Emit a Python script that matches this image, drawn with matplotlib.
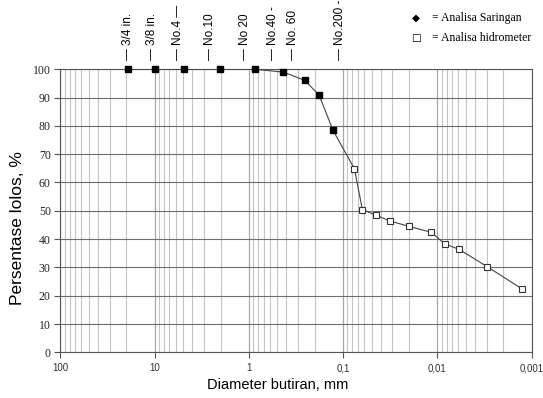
import numpy as np
import matplotlib
matplotlib.use('Agg')
import matplotlib.pyplot as plt
from matplotlib.ticker import FixedLocator, LogLocator, NullFormatter

# grain size data
saringan_d = [19.1, 9.9, 4.85, 2.05, 0.86, 0.43, 0.256, 0.18, 0.128]
saringan_p = [100, 100, 100, 100, 100, 99.0, 96.1, 90.9, 78.4]
hidro_d = [0.076, 0.0625, 0.0444, 0.0318, 0.0201, 0.0116, 0.00834, 0.00589, 0.00294, 0.00125]
hidro_p = [64.9, 50.4, 48.4, 46.4, 44.5, 42.4, 38.3, 36.4, 30.2, 22.3]

# sieve names at the top and where they stand
sieve_labels = ['\u2014 3/4 in.', '\u2014 3/8 in.', '\u2014 No.4 \u2014', '\u2014 No.10',
                '\u2014 No 20', '\u2014 No.40 -', '\u2014 No. 60', '\u2014 No.200 -']
sieve_pos = [19.1, 10.8, 5.6, 2.6, 1.1, 0.55, 0.34, 0.108]

xticks = [100, 10, 1, 0.1, 0.01, 0.001]
xticklabels = ['100', '10', '1', '0,1', '0,01', '0,001']
yticks = list(range(0, 101, 10))

fig = plt.figure(figsize=(5.43, 3.98), dpi=100)
ax = fig.add_axes([0.1114, 0.1148, 0.8676, 0.7111])

ax.set_xscale('log')
ax.set_xlim(100, 0.001)
ax.set_ylim(0, 100)

# grid
ax.xaxis.set_major_locator(FixedLocator(xticks))
ax.xaxis.set_minor_locator(LogLocator(base=10, subs=np.arange(2, 10)))
ax.xaxis.set_minor_formatter(NullFormatter())
ax.grid(True, which='major', axis='x', color='#a8a8a8', lw=0.9)
ax.grid(True, which='minor', axis='x', color='#c4c4c4', lw=0.8)
ax.grid(True, which='major', axis='y', color='#6e6e6e', lw=0.8)
ax.set_axisbelow(True)

all_d = saringan_d + hidro_d
all_p = saringan_p + hidro_p
ax.plot(all_d, all_p, '-', color='#444444', lw=0.8, zorder=3)
ax.plot(saringan_d, saringan_p, 's', ms=5, mfc='black', mec='black', zorder=4, clip_on=False)
ax.plot(hidro_d, hidro_p, 's', ms=5, mfc='white', mec='#333333', mew=0.8, zorder=4)

ax.set_xticks(xticks)
ax.set_xticklabels(xticklabels, fontsize=7, family='Liberation Sans', color='#333333')
ax.set_yticks(yticks)
ax.set_yticklabels([str(v) for v in yticks], fontsize=8.5, family='Liberation Serif', color='#222222')
ax.tick_params(axis='both', which='major', direction='out', length=4, width=0.8, color='#555555')
ax.tick_params(axis='x', which='minor', length=0)
ax.tick_params(axis='y', pad=3)
ax.tick_params(axis='x', pad=4)

for s in ax.spines.values():
    s.set_color('#555555')
    s.set_linewidth(0.8)

ax.set_xlabel('Diameter butiran, mm', fontsize=10.5, family='Liberation Sans')
ax.xaxis.set_label_coords(0.462, -0.09)
ax.set_ylabel('Persentase lolos, %', fontsize=12.5, family='Liberation Sans')
ax.yaxis.set_label_coords(-0.075, 0.44)

for lab, d in zip(sieve_labels, sieve_pos):
    ax.text(d, 103.2, lab, rotation=90, ha='center', va='bottom', fontsize=8.5,
            family='Liberation Sans', clip_on=False)

# legend as text
fig.text(0.759, 0.955, '\u25c6', fontsize=7.5, family='DejaVu Sans', va='center')
fig.text(0.795, 0.955, '= Analisa Saringan', fontsize=8.5, family='Liberation Serif', va='center')
fig.text(0.757, 0.905, '\u25a1', fontsize=7.5, family='DejaVu Sans', va='center')
fig.text(0.795, 0.905, '= Analisa hidrometer', fontsize=8.5, family='Liberation Serif', va='center')

fig.savefig('out.png', dpi=100)
